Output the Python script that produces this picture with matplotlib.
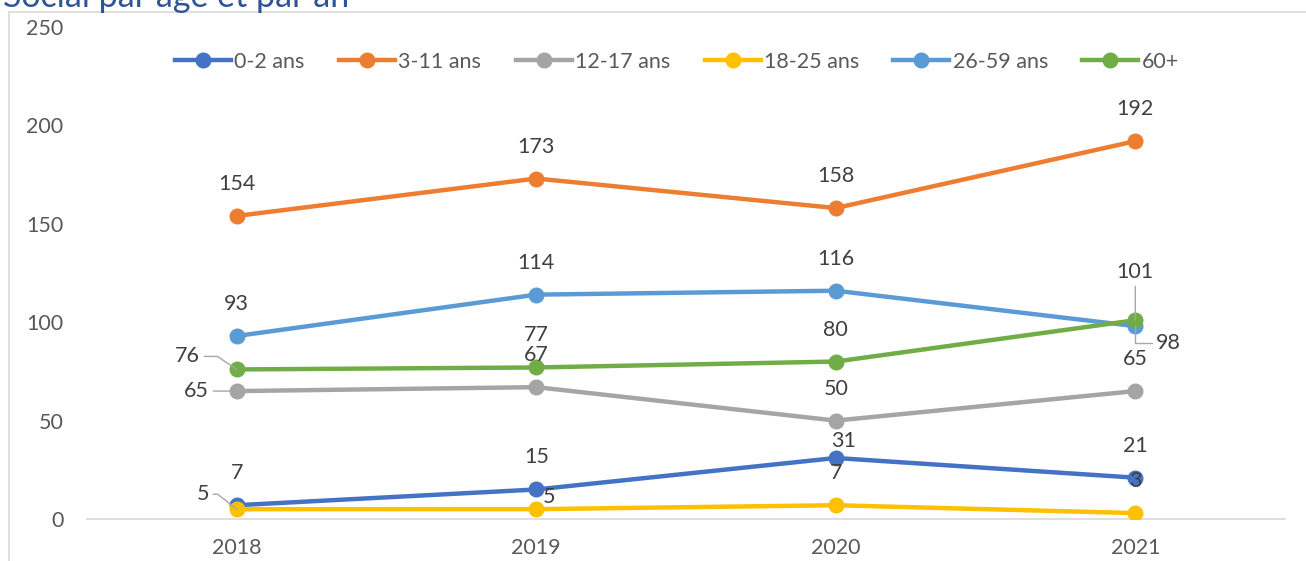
import matplotlib
matplotlib.use("Agg")
import matplotlib.pyplot as plt
from matplotlib.lines import Line2D

plt.rcParams['font.family'] = ['Lato', 'DejaVu Sans']

# data
years = ['2018', '2019', '2020', '2021']
series_names = ['0-2 ans', '3-11 ans', '12-17 ans', '18-25 ans', '26-59 ans', '60+']
v_0_2 = [7, 15, 31, 21]
v_3_11 = [154, 173, 158, 192]
v_12_17 = [65, 67, 50, 65]
v_18_25 = [5, 5, 7, 3]
v_26_59 = [93, 114, 116, 98]
v_60 = [76, 77, 80, 101]
title = 'Social par âge et par an'

values = [v_0_2, v_3_11, v_12_17, v_18_25, v_26_59, v_60]
colors = ['#4472C4', '#ED7D31', '#A5A5A5', '#FFC000', '#5B9BD5', '#70AD47']

# label placement (pixels from the point) and leader line settings
UP = (0, 32)
label_pos = {
    '0-2 ans':   [UP, UP, (8, 17), UP],
    '3-11 ans':  [UP, UP, UP, UP],
    '12-17 ans': [(-40, 0), UP, UP, UP],
    '18-25 ans': [(-34, 15), (13, 12), UP, UP],
    '26-59 ans': [UP, UP, UP, (33, -17)],
    '60+':       [(-49, 13), UP, UP, (0, 48)],
}
leaders = {
    ('12-17 ans', 0): dict(relpos=(1, 0.5), connectionstyle='arc3'),
    ('18-25 ans', 0): dict(relpos=(1, 0.5), connectionstyle='angle,angleA=0,angleB=142,rad=0'),
    ('60+', 0): dict(relpos=(1, 0.5), connectionstyle='angle,angleA=0,angleB=146,rad=0'),
    ('60+', 3): dict(relpos=(0.5, 0), connectionstyle='arc3'),
    ('26-59 ans', 3): dict(relpos=(0, 0.5), connectionstyle='angle,angleA=0,angleB=90,rad=0'),
}
FS = 15.5

fig = plt.figure(figsize=(13.06, 5.61), dpi=100)
ax = fig.add_axes([87 / 1306, 1 - 519 / 561, (1285 - 87) / 1306, (519 - 27) / 561])

x = list(range(len(years)))
for name, vals, col in zip(series_names, values, colors):
    ax.plot(x, vals, color=col, lw=3.2, marker='o', markersize=10.5,
            solid_capstyle='round', label=name, zorder=3)

for name, vals in zip(series_names, values):
    for i, v in enumerate(vals):
        dx, dy = label_pos[name][i]
        kw = {}
        if (name, i) in leaders:
            ld = leaders[(name, i)]
            kw['arrowprops'] = dict(arrowstyle='-', color='#A6A6A6', lw=1,
                                    shrinkA=1, shrinkB=0,
                                    relpos=ld['relpos'],
                                    connectionstyle=ld['connectionstyle'])
        ax.annotate(str(v), (i, v), xytext=(dx, dy), textcoords='offset pixels',
                    ha='center', va='center', fontsize=FS, color='#404040',
                    zorder=4, **kw)

ax.set_xlim(-0.5, 3.5)
ax.set_ylim(0, 250)
ax.set_yticks(range(0, 251, 50))
ax.set_xticks(x)
ax.set_xticklabels(years)
ax.tick_params(length=0, labelsize=FS, labelcolor='#595959')
ax.tick_params(axis='y', pad=17)
ax.tick_params(axis='x', pad=14)
for s in ['top', 'right', 'left']:
    ax.spines[s].set_visible(False)
ax.spines['bottom'].set_color('#D9D9D9')
ax.spines['bottom'].set_linewidth(1.2)

handles = [Line2D([], [], color=c, lw=3.2, marker='o', markersize=10.5) for c in colors]
fig.legend(handles, series_names, loc='center', bbox_to_anchor=(677 / 1306, 1 - 62 / 561),
           ncol=6, frameon=False, fontsize=FS, labelcolor='#595959',
           handlelength=2.6, handletextpad=0.15, columnspacing=1.6)

# chart frame and the clipped heading above it
fig.add_artist(Line2D([9 / 1306, 9 / 1306], [0, 1 - 12 / 561], color='#D9D9D9', lw=1.2))
fig.add_artist(Line2D([9 / 1306, 1], [1 - 12 / 561, 1 - 12 / 561], color='#D9D9D9', lw=1.2))
fig.text(3 / 1306, 1 - 7 / 561, title, ha='left', va='baseline', fontsize=24.5,
         color='#2F5496')

fig.savefig('out.png', dpi=100)
